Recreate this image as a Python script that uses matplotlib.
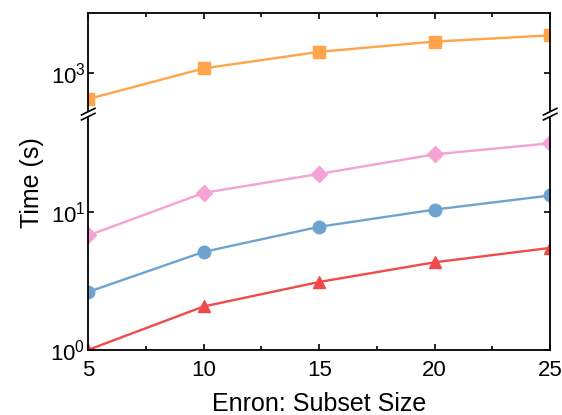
import matplotlib
matplotlib.use("Agg")
import matplotlib.pyplot as plt
from matplotlib.ticker import FixedLocator, LogFormatterMathtext

plt.rcParams["font.family"] = ["Liberation Sans", "DejaVu Sans"]
plt.rcParams["mathtext.fontset"] = "custom"
plt.rcParams["mathtext.rm"] = "Liberation Sans"
plt.rcParams["mathtext.it"] = "Liberation Sans:italic"

sizes = [5, 10, 15, 20, 25]
t_orange = [646, 1087, 1440, 1713, 1905]
t_pink = [6.8, 13.9, 19.1, 26.5, 31.9]
t_blue = [2.64, 5.17, 7.87, 10.5, 13.3]
t_red = [1.0, 2.07, 3.12, 4.34, 5.52]

c_orange = "#FFA448"
c_pink = "#F5A3D2"
c_blue = "#6EA3CF"
c_red = "#F04A4A"

fig = plt.figure(figsize=(5.62, 4.15), dpi=100)
L, R = 0.157, 0.979
ax_top = fig.add_axes([L, 0.725, R - L, 0.244])
ax_bot = fig.add_axes([L, 0.157, R - L, 0.568])

lw, ms = 1.7, 8.5
ax_top.plot(sizes, t_orange, "-s", color=c_orange, lw=lw, ms=ms)
ax_bot.plot(sizes, t_pink, "-D", color=c_pink, lw=lw, ms=ms - 0.5)
ax_bot.plot(sizes, t_blue, "-o", color=c_blue, lw=lw, ms=ms + 0.5)
ax_bot.plot(sizes, t_red, "-^", color=c_red, lw=lw, ms=ms + 0.5)

for ax in (ax_top, ax_bot):
    ax.set_yscale("log")
    ax.set_xlim(5, 25)
    ax.xaxis.set_major_locator(FixedLocator(sizes))
    ax.xaxis.set_minor_locator(FixedLocator([7.5, 12.5, 17.5, 22.5]))
    ax.yaxis.set_minor_locator(FixedLocator([]))
    ax.yaxis.set_major_formatter(LogFormatterMathtext())
    ax.tick_params(which="both", direction="in", labelsize=16, width=1.2)
    ax.tick_params(which="major", length=4, pad=2)
    ax.tick_params(which="minor", length=3)
    for s in ax.spines.values():
        s.set_linewidth(1.3)

ax_top.set_ylim(500, 2790)
ax_top.yaxis.set_major_locator(FixedLocator([1000]))
ax_top.spines["bottom"].set_visible(False)
ax_top.tick_params(axis="x", which="both", bottom=False, top=True, labelbottom=False)
ax_top.tick_params(axis="y", right=True)

ax_bot.set_ylim(1, 52)
ax_bot.yaxis.set_major_locator(FixedLocator([1, 10]))
ax_bot.spines["top"].set_visible(False)
ax_bot.tick_params(axis="x", which="both", top=False)
ax_bot.tick_params(axis="x", which="major", pad=7)
ax_bot.tick_params(axis="y", right=True)

ax_bot.set_xlabel("Enron: Subset Size", fontsize=18, labelpad=8)
fig.text(0.057, 0.56, "Time (s)", rotation=90, fontsize=18, ha="center", va="center")

# break marks on both vertical spines
yb = 0.725
for xb in (L, R):
    dx, dy = 0.012, 0.008
    for off in (-0.006, 0.006):
        fig.add_artist(plt.Line2D([xb - dx, xb + dx], [yb + off - dy, yb + off + dy],
                                  color="black", lw=1.2, transform=fig.transFigure))
    fig.add_artist(plt.Polygon([[xb - 0.003, yb - 0.004], [xb + 0.003, yb - 0.004],
                                [xb + 0.003, yb + 0.004], [xb - 0.003, yb + 0.004]],
                               closed=True, color="white", transform=fig.transFigure, zorder=1))

fig.savefig("out.png", dpi=100)
